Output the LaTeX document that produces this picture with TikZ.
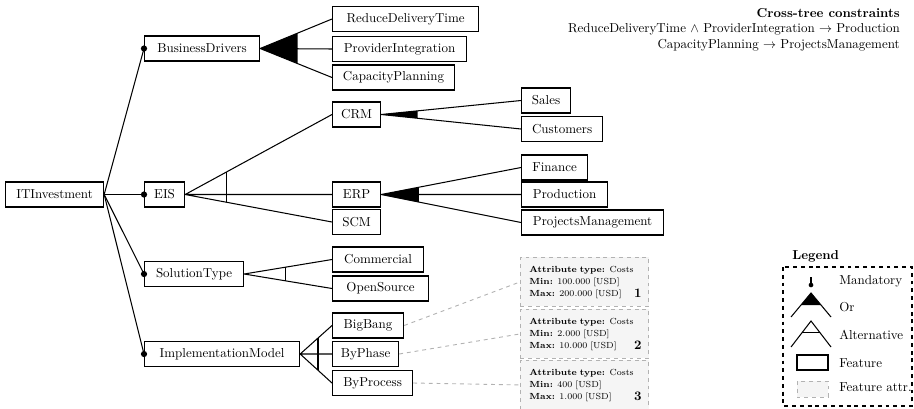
\documentclass[tikz,border=0pt]{standalone}
\usetikzlibrary{calc}
\newcommand{\attrtext}[3]{\begin{tabular}{@{}l@{}}\textbf{Attribute type:} #1\\\textbf{Min:} #2\\\textbf{Max:} #3\end{tabular}}
\begin{document}
\begin{tikzpicture}[x=0.77pt,y=-0.77pt,
  feat/.style={draw, line width=0.9pt, anchor=west, minimum height=19.25pt, inner xsep=3pt, inner ysep=0pt},
  w/.style={minimum width=#1*0.77pt},
  edge/.style={line width=0.8pt},
  attrbox/.style={draw=gray!60, dashed, fill=gray!8, line width=0.7pt, anchor=north west,
    minimum width=98.6pt, minimum height=37.7pt, text width=84.7pt, inner xsep=6.9pt,
    font=\fontsize{6.8}{9.4}\selectfont, align=left},
  attrlink/.style={draw=gray!60, dashed, line width=0.7pt},
  attrnum/.style={font=\normalsize\bfseries, anchor=south east, inner sep=0pt},
  legendlabel/.style={anchor=west, inner sep=0pt},
]
\useasboundingbox (0,0) rectangle (914,408);

% features
\node[feat, w=98]  (it)   at (5,194.5)   {ITInvestment};
\node[feat, w=115] (bd)   at (144,48.5)  {BusinessDrivers};
\node[feat, w=40]  (eis)  at (144,194.5) {EIS};
\node[feat, w=99]  (st)   at (144,274)   {SolutionType};
\node[feat, w=155] (im)   at (144,354)   {ImplementationModel};
\node[feat, w=146] (rdt)  at (332,19)    {ReduceDeliveryTime};
\node[feat, w=134] (pi)   at (332,49)    {ProviderIntegration};
\node[feat, w=122] (cp)   at (332,77.5)  {CapacityPlanning};
\node[feat, w=48]  (crm)  at (332,114.5) {CRM};
\node[feat, w=48]  (erp)  at (332,194.5) {ERP};
\node[feat, w=48]  (scm)  at (332,222)   {SCM};
\node[feat, w=49]  (sales) at (521,100.5) {Sales};
\node[feat, w=81]  (cust) at (521,129)   {Customers};
\node[feat, w=66]  (fin)  at (521,167.5) {Finance};
\node[feat, w=86]  (prod) at (521,194.5) {Production};
\node[feat, w=142] (pm)   at (521,222.5) {ProjectsManagement};
\node[feat, w=91]  (com)  at (332,259.5) {Commercial};
\node[feat, w=96]  (os)   at (332,288.5) {OpenSource};
\node[feat, w=71]  (bb)   at (332,325.5) {BigBang};
\node[feat, w=66]  (bph)  at (332,354)   {ByPhase};
\node[feat, w=80]  (bpr)  at (332,383)   {ByProcess};

% mandatory children of the root
\foreach \c in {bd,eis,st,im}{
  \draw[edge] (it.east) -- (\c.west);
  \fill (\c.west) circle (2.4pt);
}

% or-groups
\fill (bd.east) -- ($(bd.east)!0.52!(rdt.west)$) -- ($(bd.east)!0.52!(cp.west)$) -- cycle;
\draw[edge] (bd.east) -- (rdt.west) (bd.east) -- (pi.west) (bd.east) -- (cp.west);
\fill (crm.east) -- ($(crm.east)!0.26!(sales.west)$) -- ($(crm.east)!0.26!(cust.west)$) -- cycle;
\draw[edge] (crm.east) -- (sales.west) (crm.east) -- (cust.west);
\fill (erp.east) -- ($(erp.east)!0.27!(fin.west)$) -- ($(erp.east)!0.27!(pm.west)$) -- cycle;
\draw[edge] (erp.east) -- (fin.west) (erp.east) -- (prod.west) (erp.east) -- (pm.west);

% alternative groups
\draw[edge] (eis.east) -- (crm.west) (eis.east) -- (erp.west) (eis.east) -- (scm.west);
\draw[edge] ($(eis.east)!0.284!(crm.west)$) -- ($(eis.east)!0.284!(scm.west)$);
\draw[edge] (st.east) -- (com.west) (st.east) -- (os.west);
\draw[edge] ($(st.east)!0.47!(com.west)$) -- ($(st.east)!0.47!(os.west)$);
\draw[edge] (im.east) -- (bb.west) (im.east) -- (bph.west) (im.east) -- (bpr.west);
\draw[edge] ($(im.east)!0.56!(bb.west)$) -- ($(im.east)!0.56!(bpr.west)$);

% feature attributes
\node[attrbox] (a1) at (520,257) {\attrtext{Costs}{100.000 [USD]}{200.000 [USD]}};
\node[attrbox] (a2) at (520,309) {\attrtext{Costs}{2.000 [USD]}{10.000 [USD]}};
\node[attrbox] (a3) at (520,360) {\attrtext{Costs}{400 [USD]}{1.000 [USD]}};
\node[attrnum] at ($(a1.south east)+(-7,-9)$) {1};
\node[attrnum] at ($(a2.south east)+(-7,-9)$) {2};
\node[attrnum] at ($(a3.south east)+(-7,-9)$) {3};
\draw[attrlink] (bb.east) -- (a1.west);
\draw[attrlink] (bph.east) -- (a2.west);
\draw[attrlink] (bpr.east) -- (a3.west);

% cross-tree constraints
\node[anchor=east, align=right, inner sep=0pt] (ctc) at (900,29.5)
  {\textbf{Cross-tree constraints}\\
   ReduceDeliveryTime $\land$ ProviderIntegration $\rightarrow$ Production\\
   CapacityPlanning $\rightarrow$ ProjectsManagement};

% legend
\node[anchor=west, inner sep=0pt, font=\bfseries] (legt) at (792,256) {Legend};
\draw[dashed, line width=0.8pt] (783,267) rectangle (912,406);
\draw[edge] (811,277) -- (811,285);
\fill (811,285) circle (1.8pt);
\node[legendlabel] at (839,281) {Mandatory};
\fill (811,293) -- ($(811,293)!0.5!(791,317)$) -- ($(811,293)!0.5!(831,317)$) -- cycle;
\draw[edge] (791,317) -- (811,293) -- (831,317);
\node[legendlabel] at (839,307) {Or};
\draw[edge] (791,347) -- (811,321) -- (831,347);
\draw[edge] ($(811,321)!0.46!(791,347)$) -- ($(811,321)!0.46!(831,347)$);
\node[legendlabel] at (839,335) {Alternative};
\draw[line width=0.9pt] (797,355) rectangle (828,370);
\node[legendlabel] at (839,363) {Feature};
\draw[draw=gray!60, dashed, fill=gray!8, line width=0.7pt] (797,381) rectangle (828,397);
\node[legendlabel] at (839,387) {Feature attr.};
\end{tikzpicture}
\end{document}
